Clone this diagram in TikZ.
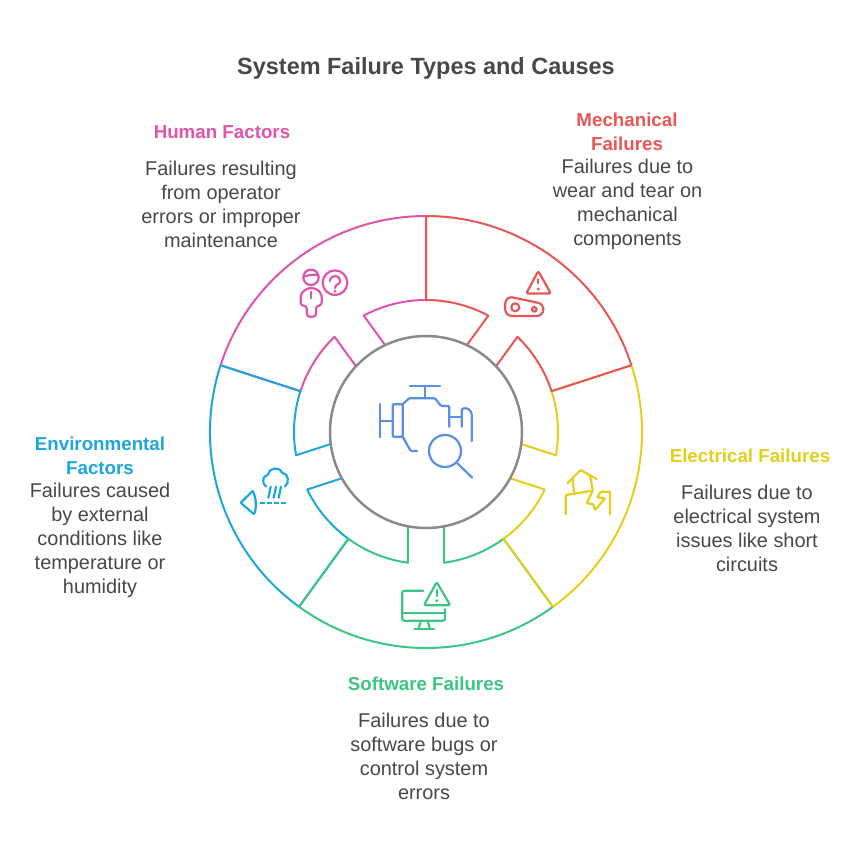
\documentclass[tikz,border=0pt]{standalone}
\usepackage{fontspec}
\setmainfont{Liberation Sans}
\definecolor{cred}{HTML}{E85757}
\definecolor{cyel}{HTML}{E3CF1C}
\definecolor{cgrn}{HTML}{3CC583}
\definecolor{cblu}{HTML}{1EA7DC}
\definecolor{cpnk}{HTML}{E055AC}
\definecolor{ccen}{HTML}{5A8FE8}
\definecolor{ctxt}{HTML}{484848}
\definecolor{chub}{HTML}{8A8A8A}
\newcommand{\failsector}[3]{%
 \pgfmathsetmacro{\gc}{#2-36}
 \draw[ringline,#1] (#2:216) arc[start angle=#2,end angle=#3,radius=216pt];
 \draw[ringline,#1] (#3:216) -- (#3:132) arc[start angle=#3,end angle=\gc-7.84,radius=132pt] -- (\gc-10.81:96);
 \draw[ringline,#1] (#2:216) -- (#2:132) arc[start angle=#2,end angle=\gc+7.84,radius=132pt] -- (\gc+10.81:96);
}
\tikzset{
 x=1pt,y=1pt,
 ringline/.style={line width=2pt,line join=round},
 icon/.style={line width=2.2pt,line join=round,line cap=round,rounded corners=0.8pt},
 heading/.style={font=\fontsize{18.75}{24}\selectfont\bfseries,align=center,inner sep=0pt},
 bodytext/.style={font=\fontsize{19.9}{24}\selectfont,align=center,inner sep=0pt,text=ctxt},
}
\begin{document}
\begin{tikzpicture}
\useasboundingbox (-426,-420) rectangle (432,432);
\fill[white] (-426,-420) rectangle (432,432);
\failsector{cpnk}{162}{90}
\failsector{cblu}{-126}{-198}
\failsector{cgrn}{-54}{-126}
\failsector{cyel}{18}{-54}
\failsector{cred}{90}{18}
\node[circle,draw=chub,line width=2.5pt,minimum size=192pt,inner sep=0pt] (hub) at (0,0) {};
\begin{scope}[x=1pt,y=-1pt,shift={(-426pt,432pt)}]
% title and labels
\node[font=\fontsize{23.45}{28}\selectfont\bfseries,text=ctxt,inner sep=0pt] (title) at (426,68) {System Failure Types and Causes};
\node[heading,text=cpnk] (hfh) at (222,132) {Human Factors};
\node[bodytext] (hfb) at (221,204) {Failures resulting\\from operator\\errors or improper\\maintenance};
\node[heading,text=cred] (mfh) at (627,132) {Mechanical\\Failures};
\node[bodytext] (mfb) at (627.5,204) {Failures due to\\wear and tear on\\mechanical\\components};
\node[heading,text=cyel] (efh) at (750,456) {Electrical Failures};
\node[bodytext] (efb) at (747,528) {Failures due to\\electrical system\\issues like short\\circuits};
\node[heading,text=cgrn] (sfh) at (426,684) {Software Failures};
\node[bodytext] (sfb) at (424,756) {Failures due to\\software bugs or\\control system\\errors};
\node[heading,text=cblu] (nfh) at (100,456) {Environmental\\Factors};
\node[bodytext] (nfb) at (100,540) {Failures caused\\by external\\conditions like\\temperature or\\humidity};
% human icon
\begin{scope}[icon,draw=cpnk]
\draw[cpnk] (311,277.3) circle[radius=7.7pt];
\draw[cpnk] (304,276.5) .. controls (308,275) and (314,274.5) .. (318.3,275);
\draw[cpnk] (335,282.7) circle[radius=12.3pt];
\draw[cpnk] (330,281) .. controls (330,274.5) and (340,274.5) .. (340,281) .. controls (340,284.5) and (335,284) .. (335,288);
\fill[cpnk] (335,291.3) circle[radius=1.6pt];
\draw[cpnk] (311,291.7) -- (311,298.3);
\draw[cpnk,rounded corners=3pt] (306.7,316.7) -- (306.7,305.7) -- (300.7,305.7) -- (300.7,294) -- (306.7,288.3) -- (316,288.3) -- (321.7,294) -- (321.7,305.7) -- (316,305.7) -- (316,316.7) -- cycle;
\end{scope}
% mechanical icon
\begin{scope}[icon]
\draw[cred,rounded corners=2pt] (538.3,271) -- (526.2,293.5) -- (550.8,293.5) -- cycle;
\draw[cred] (538.3,279.3) -- (538.3,283.3);
\fill[cred] (538.3,289) circle[radius=1.6pt];
\draw[cred] (512,297.3) -- (537,302.5) .. controls (541,303.5) and (543.3,306) .. (543.3,309) .. controls (543.3,313) and (540,316) .. (536,316) -- (513,316) .. controls (507,316) and (505,312) .. (505,306.5) .. controls (505,301) and (507,296.8) .. (512,297.3);
\draw[cred] (515.3,307.3) circle[radius=4pt];
\draw[cred] (534.3,309.3) circle[radius=2.3pt];
\end{scope}
% centre icon
\begin{scope}[icon,rounded corners=1pt]
\draw[ccen] (410,385.7) -- (440,385.7);
\draw[ccen] (425,385.7) -- (425,398.3);
\draw[ccen] (402.7,404.3) -- (409,398.3) -- (435,398.3) -- (441,406) -- (449.3,406) -- (449.3,426.7);
\draw[ccen] (449.3,416.7) -- (461.7,416.7);
\draw[ccen] (461.7,426.7) -- (461.7,409) .. controls (467,407) and (471.7,410) .. (471.7,416) -- (471.7,441);
\draw[ccen] (392.7,404.3) rectangle (402.7,436.7);
\draw[ccen] (380,404) -- (380,437.3);
\draw[ccen] (380,420.7) -- (392.7,420.7);
\draw[ccen] (402.7,436.7) -- (410.7,451) -- (417.3,451);
\draw[ccen] (445,451) circle[radius=16pt];
\draw[ccen] (457.3,463.3) -- (472.3,477.7);
\end{scope}
% electrical icon
\begin{scope}[icon]
\draw[cyel] (567.3,483.3) -- (580.7,470) -- (596.7,479);
\draw[cyel] (572.7,479) -- (574,492.3);
\draw[cyel] (590,475.7) -- (592.7,490);
\draw[cyel] (565.7,514.3) -- (565.7,495) -- (592.7,490.7) -- (586.7,503.3) -- (593.3,504.3) -- (595,510) -- (605,498.3) -- (597.3,497.3) -- (600.7,491.7) -- (610,491.7) -- (610,514.3);
\end{scope}
% software icon
\begin{scope}[icon]
\draw[cgrn,rounded corners=2pt] (423.3,590.7) -- (402.3,590.7) -- (402.3,620.7) -- (445,620.7) -- (445,609.3);
\draw[cgrn] (402.3,613.3) -- (445,613.3);
\draw[cgrn] (421,620.7) -- (418.3,629.3);
\draw[cgrn] (427.7,620.7) -- (430,629.3);
\draw[cgrn] (414.3,629.3) -- (434,629.3);
\draw[cgrn,rounded corners=2pt] (436.7,582) -- (424,605.2) -- (450.2,605.2) -- cycle;
\draw[cgrn] (436.7,590) -- (436.7,596);
\fill[cgrn] (436.7,600.7) circle[radius=1.6pt];
\end{scope}
% environmental icon
\begin{scope}[icon]
\draw[cblu] (266,486.5) .. controls (262,484) and (262,476) .. (268,475) .. controls (269,468) and (279,466) .. (282,473) .. controls (288,473) and (290,483) .. (285,486.5);
\draw[cblu] (270.7,486.7) -- (268.3,497.7);
\draw[cblu] (276,486.7) -- (273.7,497.7);
\draw[cblu] (281,486.7) -- (278.7,497.7);
\draw[cblu,line cap=butt,dash pattern=on 4.7pt off 2.3pt] (260,502.7) -- (286,502.7);
\draw[cblu] (252.7,491) -- (240.7,502.7) -- (254,514.3) .. controls (257,507) and (256,497) .. (252.7,491);
\end{scope}
\end{scope}
\end{tikzpicture}
\end{document}
